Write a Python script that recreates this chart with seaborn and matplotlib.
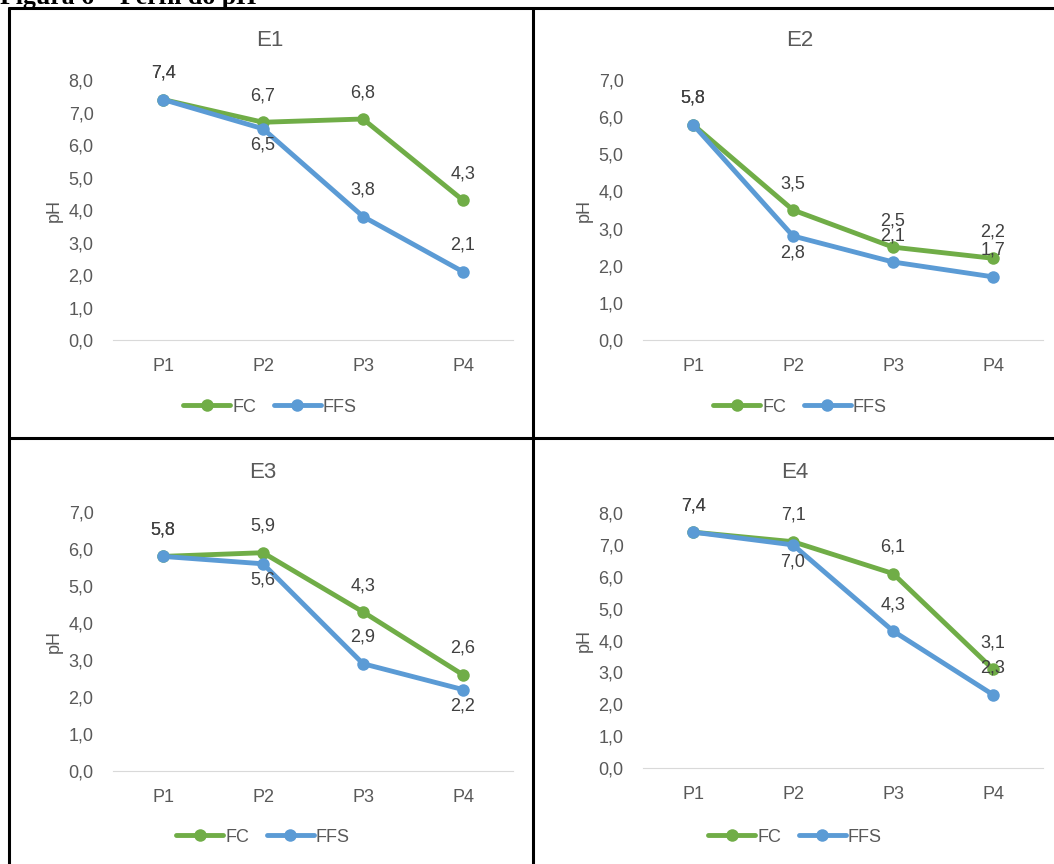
import numpy as np
import pandas as pd
import seaborn as sns
import matplotlib.pyplot as plt
from matplotlib.lines import Line2D

pontos = ['P1', 'P2', 'P3', 'P4']
e1_fc = [7.4, 6.7, 6.8, 4.3]
e1_ffs = [7.4, 6.5, 3.8, 2.1]
e2_fc = [5.8, 3.5, 2.5, 2.2]
e2_ffs = [5.8, 2.8, 2.1, 1.7]
e3_fc = [5.8, 5.9, 4.3, 2.6]
e3_ffs = [5.8, 5.6, 2.9, 2.2]
e4_fc = [7.4, 7.1, 6.1, 3.1]
e4_ffs = [7.4, 7.0, 4.3, 2.3]

sns.set_style('white')
plt.rcParams['font.family'] = ['Liberation Sans', 'DejaVu Sans']

verde = '#70AD47'
azul = '#5B9BD5'
cinza = '#595959'
escuro = '#404040'
fs = 13

fig = plt.figure(figsize=(10.54, 8.64), dpi=100)

W, H = 1054, 864
def fx(px): return px / W
def fy(py): return 1 - py / H

# paineis: (nome, fc, ffs, ymax, x0 px, y0 px (valor 0), ytop px, titulo x, legenda y, pontos FFS com rotulo abaixo)
paineis = [
    ('E1', e1_fc, e1_ffs, 8, 113, 340, 80, 270, 407, [1]),
    ('E2', e2_fc, e2_ffs, 7, 643, 340, 80, 800, 407, [1]),
    ('E3', e3_fc, e3_ffs, 7, 113, 771, 512, 263, 837, [1, 3]),
    ('E4', e4_fc, e4_ffs, 8, 643, 768, 513, 795, 837, [1]),
]

for nome, fc, ffs, ymax, x0, yb, yt, tx, ly, abaixo in paineis:
    ax = fig.add_axes([fx(x0), fy(yb), fx(400), (yb - yt) / H])
    d = pd.DataFrame({'ponto': pontos * 2, 'pH': fc + ffs,
                      'serie': ['FC'] * 4 + ['FFS'] * 4})
    sns.lineplot(data=d, x='ponto', y='pH', hue='serie', palette={'FC': verde, 'FFS': azul},
                 marker='o', markersize=9, markeredgewidth=0, linewidth=3.5,
                 sort=False, legend=False, ax=ax)
    ax.set_xlim(-0.5, 3.5)
    ax.set_ylim(0, ymax)
    ax.set_yticks(np.arange(0, ymax + 0.01, 1))
    ax.set_yticklabels([f'{v:.1f}'.replace('.', ',') for v in np.arange(0, ymax + 0.01, 1)])
    ax.tick_params(axis='both', colors=cinza, labelsize=fs, length=0)
    ax.tick_params(axis='x', pad=13)
    ax.tick_params(axis='y', pad=14)
    for s in ['top', 'right', 'left']:
        ax.spines[s].set_visible(False)
    ax.spines['bottom'].set_color('#D9D9D9')
    ax.set_xlabel('')
    ax.set_ylabel('pH', color=cinza, fontsize=fs, labelpad=4)
    ax.grid(False)
    for i, v in enumerate(fc):
        ax.annotate(f'{v:.1f}'.replace('.', ','), (i, v), xytext=(0, 19), textcoords='offset points',
                    ha='center', va='center', fontsize=fs, color=escuro)
    for i, v in enumerate(ffs):
        dy = -12 if i in abaixo else 19
        ax.annotate(f'{v:.1f}'.replace('.', ','), (i, v), xytext=(0, dy), textcoords='offset points',
                    ha='center', va='center', fontsize=fs, color=escuro)
    fig.text(fx(tx), fy(yt - 40), nome, ha='center', va='center', fontsize=16, color=cinza)
    handles = [Line2D([], [], color=verde, lw=3.5, marker='o', markersize=9, markeredgewidth=0),
               Line2D([], [], color=azul, lw=3.5, marker='o', markersize=9, markeredgewidth=0)]
    fig.legend(handles, ['FC', 'FFS'], loc='center', bbox_to_anchor=(fx(tx), fy(ly)),
               ncol=2, frameon=False, fontsize=fs, labelcolor=cinza,
               handlelength=2.6, handletextpad=0.1, columnspacing=1.0)

# bordas da tabela
for (xa, ya, xb, yb2) in [(9, 8, 1054, 8), (9, 8, 9, 864), (533, 8, 533, 864), (9, 438, 1054, 438)]:
    fig.add_artist(Line2D([fx(xa), fx(xb)], [fy(ya), fy(yb2)], color='black', lw=2.2))

fig.text(0.0, fy(4), 'Figura 6 – Perfil do pH', ha='left', va='baseline', fontsize=18.5,
         fontweight='bold', family='Liberation Serif', color='black')

fig.savefig('out.png', dpi=100)
